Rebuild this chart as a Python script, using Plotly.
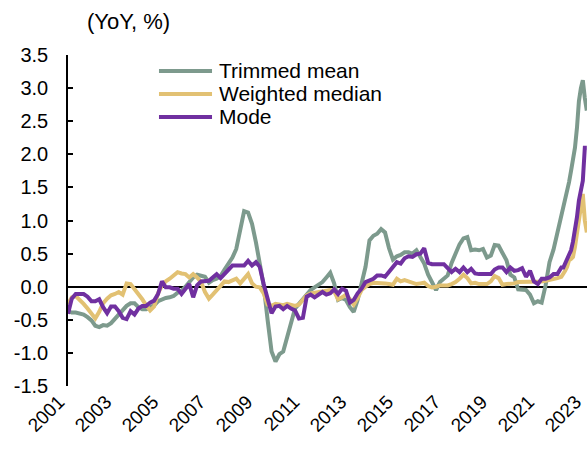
import pandas as pd
import plotly.graph_objects as go

# Dates: bi-monthly Jan-2001..Jan-2022, then monthly Feb-2022..Feb-2023
dates = list(pd.date_range("2001-01-01", "2022-01-01", freq="2MS")) + \
        list(pd.date_range("2022-02-01", "2023-02-01", freq="MS"))

trimmed_mean = [
    -0.37, -0.39, -0.39, -0.40, -0.42, -0.46, -0.51, -0.59, -0.61, -0.58,
    -0.59, -0.55, -0.48, -0.42, -0.34, -0.29, -0.25, -0.25, -0.31, -0.34,
    -0.34, -0.31, -0.28, -0.22, -0.19, -0.17, -0.16, -0.14, -0.09, -0.06,
    0.00, 0.08, 0.14, 0.18, 0.17, 0.15, 0.06, 0.10, 0.12, 0.16,
    0.26, 0.36, 0.44, 0.57, 0.85, 1.14, 1.12, 0.95, 0.67, 0.36,
    0.02, -0.50, -0.98, -1.13, -1.02, -0.98, -0.76, -0.52, -0.33, -0.26,
    -0.19, -0.12, -0.05, -0.01, 0.03, 0.07, 0.14, 0.21, 0.05, -0.20,
    -0.17, -0.20, -0.31, -0.38, -0.20, 0.05, 0.30, 0.70, 0.77, 0.80,
    0.87, 0.82, 0.58, 0.41, 0.46, 0.48, 0.52, 0.52, 0.50, 0.55,
    0.45, 0.35, 0.18, 0.05, -0.05, 0.07, 0.12, 0.17, 0.36, 0.51,
    0.64, 0.73, 0.75, 0.55, 0.56, 0.55, 0.57, 0.44, 0.47, 0.63,
    0.62, 0.51, 0.40, 0.18, 0.14, -0.04, -0.04, -0.05, -0.12, -0.25,
    -0.22, -0.24, 0.02, 0.37, 0.56, 0.82, 1.05,
    1.15, 1.30, 1.42, 1.58, 1.75, 1.90, 2.10, 2.40, 2.80, 3.00, 3.12, 2.85, 2.66,
]

weighted_median = [
    -0.26, -0.16, -0.14, -0.19, -0.26, -0.33, -0.42, -0.48, -0.38, -0.25,
    -0.18, -0.13, -0.11, -0.08, -0.12, 0.05, 0.04, -0.03, -0.10, -0.19,
    -0.28, -0.36, -0.30, -0.10, 0.02, 0.08, 0.12, 0.18, 0.22, 0.20,
    0.19, 0.14, 0.19, 0.14, 0.07, -0.08, -0.18, -0.12, -0.05, 0.02,
    0.08, 0.07, 0.09, 0.12, 0.05, 0.11, 0.19, 0.05, 0.00, -0.01,
    -0.10, -0.27, -0.29, -0.26, -0.27, -0.28, -0.26, -0.28, -0.29, -0.27,
    -0.20, -0.13, -0.10, -0.09, -0.08, -0.07, -0.06, -0.05, -0.07, -0.19,
    -0.16, -0.12, -0.19, -0.27, -0.17, -0.05, 0.00, 0.04, 0.06, 0.06,
    0.05, 0.05, 0.04, 0.03, 0.12, 0.08, 0.10, 0.08, 0.07, 0.04,
    0.05, 0.06, 0.01, -0.01, 0.00, 0.02, 0.02, 0.02, 0.04, 0.07,
    0.12, 0.18, 0.13, 0.05, 0.06, 0.04, 0.04, 0.04, 0.08, 0.16,
    0.13, 0.03, 0.04, 0.04, 0.05, 0.07, 0.07, 0.07, 0.07, 0.07,
    0.07, 0.08, 0.09, 0.10, 0.12, 0.13, 0.15,
    0.19, 0.24, 0.30, 0.40, 0.42, 0.45, 0.60, 0.80, 0.98, 1.25, 1.40, 1.00, 0.82,
]

mode = [
    -0.41, -0.18, -0.11, -0.11, -0.11, -0.15, -0.22, -0.22, -0.19, -0.31,
    -0.40, -0.30, -0.30, -0.37, -0.47, -0.49, -0.37, -0.42, -0.33, -0.29,
    -0.29, -0.24, -0.21, -0.11, 0.08, -0.01, -0.01, -0.03, -0.03, -0.11,
    -0.04, 0.04, -0.16, 0.02, 0.08, 0.09, 0.09, 0.14, 0.19, 0.13,
    0.19, 0.27, 0.32, 0.32, 0.32, 0.32, 0.39, 0.32, 0.37, 0.30,
    0.04, -0.20, -0.40, -0.30, -0.29, -0.34, -0.29, -0.33, -0.36, -0.48,
    -0.47, -0.15, -0.12, -0.16, -0.12, -0.08, -0.12, -0.10, -0.04, -0.11,
    -0.03, -0.06, -0.24, -0.20, -0.10, -0.03, 0.07, 0.10, 0.12, 0.17,
    0.17, 0.15, 0.22, 0.30, 0.37, 0.35, 0.43, 0.46, 0.45, 0.49,
    0.50, 0.58, 0.36, 0.34, 0.34, 0.34, 0.34, 0.28, 0.22, 0.27,
    0.22, 0.29, 0.22, 0.27, 0.20, 0.19, 0.19, 0.19, 0.19, 0.26,
    0.29, 0.29, 0.22, 0.29, 0.24, 0.25, 0.28, 0.15, 0.24, 0.08,
    0.04, 0.12, 0.12, 0.14, 0.19, 0.19, 0.29,
    0.29, 0.35, 0.44, 0.48, 0.55, 0.68, 0.85, 1.05, 1.30, 1.50, 1.60, 2.10, 2.10,
]

series_names = ["Trimmed mean", "Weighted median", "Mode"]
series_colors = ["#7D9A8D", "#E2C173", "#7030A0"]

x_tick_labels = [str(y) for y in range(2001, 2024, 2)]
x_tick_vals = [f"{y}-01-01" for y in range(2001, 2024, 2)]
y_tick_vals = [-1.5, -1.0, -0.5, 0.0, 0.5, 1.0, 1.5, 2.0, 2.5, 3.0, 3.5]
y_tick_text = ["-1.5", "-1.0", "-0.5", "0.0", "0.5", "1.0", "1.5", "2.0", "2.5", "3.0", "3.5"]

FONT = "Liberation Sans, Arial, sans-serif"

fig = go.Figure()
for name, vals, col in zip(series_names, [trimmed_mean, weighted_median, mode], series_colors):
    fig.add_trace(go.Scatter(x=dates, y=vals, mode="lines", name=name,
                             line=dict(color=col, width=4), showlegend=False))

# Legend (line sample + label) placed in the upper-left of the plot area
legend_shapes = []
legend_annots = []
leg_x0, leg_x1, leg_tx = 0.1753, 0.2775, 0.2871
leg_rows = [0.9517, 0.8822, 0.8127]
for name, col, ly in zip(series_names, series_colors, leg_rows):
    legend_shapes.append(dict(type="line", xref="paper", yref="paper",
                              x0=leg_x0, x1=leg_x1, y0=ly, y1=ly,
                              line=dict(color=col, width=4)))
    legend_annots.append(dict(text=name, xref="paper", yref="paper",
                              x=leg_tx, y=ly, xanchor="left", yanchor="middle",
                              showarrow=False, font=dict(size=21)))

fig.update_layout(
    width=587, height=450,
    margin=dict(l=68, r=0, t=55, b=64, autoexpand=False),
    plot_bgcolor="white", paper_bgcolor="white",
    font=dict(family=FONT, size=20, color="black"),
    showlegend=False,
    xaxis=dict(type="date", range=["2001-01-01", "2023-02-04"],
               tickmode="array", tickvals=x_tick_vals, ticktext=x_tick_labels,
               tickangle=-45, showline=False, ticks="", showgrid=False,
               zeroline=False, tickfont=dict(size=19), automargin=False,
               ticklabeloverflow="allow", ticklabelshift=-9),
    yaxis=dict(range=[-1.5, 3.5], tickmode="array", tickvals=y_tick_vals,
               ticktext=y_tick_text, showline=True, linecolor="black",
               linewidth=1.5, ticks="inside", ticklen=5, tickwidth=1.5,
               tickcolor="black", showgrid=False, zeroline=True,
               zerolinecolor="black", zerolinewidth=1.5,
               ticklabelstandoff=14, automargin=False),
    shapes=legend_shapes,
    annotations=[dict(text="(YoY, %)", xref="paper", yref="paper",
                      x=0.032, y=1.1027, xanchor="left", yanchor="middle",
                      showarrow=False, font=dict(size=22))] + legend_annots,
)

fig.write_html("out.html",
               config={"displayModeBar": False},
               post_script="document.body.style.margin='0px';"
                           "document.body.style.overflow='hidden';")
